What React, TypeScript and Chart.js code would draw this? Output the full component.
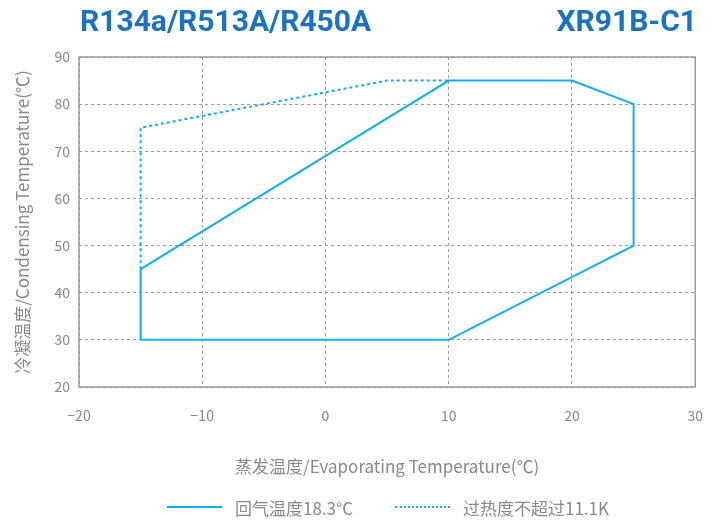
import React, { useEffect, useRef } from "react";
import { Chart, registerables } from "chart.js";

Chart.register(...registerables);

const titleLeft = "R134a/R513A/R450A";
const titleRight = "XR91B-C1";
const xTitle = "蒸发温度/Evaporating Temperature(℃)";
const yTitle = "冷凝温度/Condensing Temperature(℃)";
const seriesNames = ["回气温度18.3°C", "过热度不超过11.1K"];

// Solid envelope (return gas 18.3°C)
const solidX = [-15, 10, 20, 25, 25, 10, -15, -15];
const solidY = [45, 85, 85, 80, 50, 30, 30, 45];
// Dotted envelope (superheat ≤ 11.1K)
const dotX = [-15, -15, 5, 10];
const dotY = [45, 75, 85, 85];

const xMin = -20, xMax = 30, xStep = 10;
const yMin = 20, yMax = 90, yStep = 10;

const LINE = "#12aeea";
const TITLE = "#1a72c2";
const GRID = "#9a9a9a";
const TEXT = "#888888";
const FONT = "'Noto Sans CJK SC', 'Noto Sans', sans-serif";

export default function App() {
  const ref = useRef<HTMLCanvasElement>(null);
  useEffect(() => {
    if (!ref.current) return;
    const chart = new Chart(ref.current, {
      type: "scatter",
      data: {
        datasets: [
          {
            label: seriesNames[0],
            data: solidX.map((x, i) => ({ x, y: solidY[i] })),
            showLine: true,
            borderColor: LINE,
            backgroundColor: LINE,
            borderWidth: 2,
            pointRadius: 0,
            tension: 0,
          },
          {
            label: seriesNames[1],
            data: dotX.map((x, i) => ({ x, y: dotY[i] })),
            showLine: true,
            borderColor: LINE,
            backgroundColor: LINE,
            borderWidth: 2,
            borderDash: [3, 3],
            pointRadius: 0,
            tension: 0,
          },
        ],
      },
      options: {
        animation: false,
        responsive: false,
        maintainAspectRatio: false,
        layout: { padding: { left: 0, top: 57, right: 26, bottom: 43 } },
        plugins: {
          legend: { display: false },
          tooltip: { enabled: false },
        },
        scales: {
          x: {
            type: "linear",
            min: xMin,
            max: xMax,
            ticks: {
              stepSize: xStep,
              color: TEXT,
              padding: 20,
              font: { family: FONT, size: 14 },
              callback: (v: any) => (Number(v) < 0 ? "−" + Math.abs(Number(v)) : String(v)),
            },
            grid: {
              color: GRID,
              lineWidth: 1,
              drawTicks: false,
              tickLength: 0,
            },
            border: { display: false, color: GRID, width: 1, dash: [3, 3] },
            title: {
              display: true,
              text: xTitle,
              color: TEXT,
              font: { family: FONT, size: 17 },
              padding: { top: 0, bottom: 0 },
            },
            afterFit: (axis: any) => {
              axis.height = 90;
            },
          },
          y: {
            type: "linear",
            min: yMin,
            max: yMax,
            ticks: {
              stepSize: yStep,
              color: TEXT,
              padding: 9,
              font: { family: FONT, size: 14 },
            },
            grid: {
              color: GRID,
              lineWidth: 1,
              drawTicks: false,
              tickLength: 0,
            },
            border: { display: false, color: GRID, width: 1, dash: [3, 3] },
            title: {
              display: true,
              text: yTitle,
              color: TEXT,
              font: { family: FONT, size: 17 },
              padding: { top: 12, bottom: 0 },
            },
            afterFit: (axis: any) => {
              axis.width = 79;
            },
          },
        },
      },
      plugins: [
        {
          id: "frame",
          beforeDatasetsDraw: (c: any) => {
            const { ctx, chartArea } = c;
            ctx.save();
            ctx.strokeStyle = GRID;
            ctx.lineWidth = 1.5;
            ctx.setLineDash([]);
            ctx.strokeRect(chartArea.left, chartArea.top, chartArea.right - chartArea.left, chartArea.bottom - chartArea.top);
            ctx.restore();
          },
        },
      ],
    } as any);
    return () => chart.destroy();
  }, []);

  const titleStyle: React.CSSProperties = {
    position: "absolute",
    top: 2,
    fontFamily: "Roboto, 'Noto Sans', sans-serif",
    fontWeight: 700,
    fontSize: 30,
    color: TITLE,
    lineHeight: "38px",
    whiteSpace: "nowrap",
  };

  return (
    <div style={{ position: "fixed", left: 0, top: 0, width: 723, height: 520, background: "#fff" }}>
      <canvas ref={ref} width={723} height={520} style={{ position: "absolute", left: 0, top: 0 }} />
      <div style={{ ...titleStyle, left: 80 }}>{titleLeft}</div>
      <div style={{ ...titleStyle, right: 26 }}>{titleRight}</div>
      <div
        style={{
          position: "absolute",
          left: 167,
          top: 495,
          display: "flex",
          alignItems: "center",
          fontFamily: FONT,
          fontSize: 17,
          color: TEXT,
          height: 24,
          whiteSpace: "nowrap",
        }}
      >
        <div style={{ width: 55, borderTop: `2px solid ${LINE}`, marginRight: 13 }} />
        <span style={{ width: 160 }}>{seriesNames[0]}</span>
        <div style={{ width: 55, borderTop: `2px dotted ${LINE}`, marginRight: 13 }} />
        <span>{seriesNames[1]}</span>
      </div>
    </div>
  );
}
